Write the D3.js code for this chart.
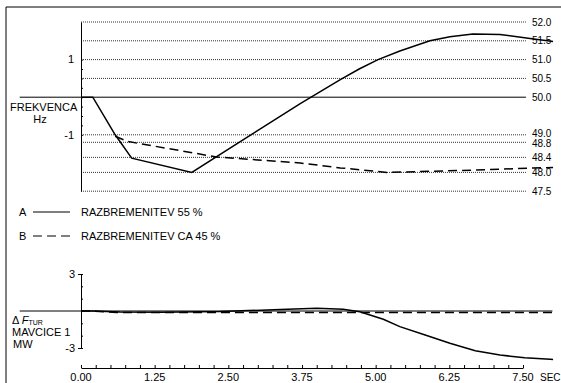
<!DOCTYPE html>
<html>
<head>
<meta charset="utf-8">
<script src="https://cdn.jsdelivr.net/npm/d3@7"></script>
<style>
  body { margin: 0; background: #fff; }
  svg { display: block; font-family: "Liberation Sans", Arial, sans-serif; font-size: 11px; }
  .ref { stroke: #333; stroke-width: 1; stroke-dasharray: 1,1; fill: none; }
  .base { stroke: #000; stroke-width: 1; fill: none; }
  .curve { stroke: #000; stroke-width: 1.5; fill: none; }
  .dash { stroke-dasharray: 9,5; }
  .axis path, .axis line { stroke: #000; stroke-width: 1; }
  .lvl { font-size: 10px; }
</style>
</head>
<body>
<div id="chart"></div>
<script>
const svgWidth = 561;
const svgHeight = 383;

// frequency levels (Hz) shown as reference lines with labels on the right
const freqLevels = [52.0, 51.5, 51.0, 50.5, 50.0, 49.0, 48.8, 48.4, 48.0, 47.5];
const freqLabels = ["52.0", "51.5", "51.0", "50.5", "50.0", "49.0", "48.8", "48.4", "48.0", "47.5"];

// time axis (s)
const timeTicks = [0, 1.25, 2.5, 3.75, 5, 6.25, 7.5];
const timeLabels = ["0.00", "1.25", "2.50", "3.75", "5.00", "6.25", "7.50"];

// frequency response [t, Hz]
const freqA = [[0, 50.0], [0.2, 50.0], [0.58, 49.0], [0.86, 48.38], [1.88, 48.0], [3.72, 49.83],
  [4.40, 50.47], [4.72, 50.75], [5.04, 51.0], [5.41, 51.23], [5.92, 51.5], [6.26, 51.61],
  [6.65, 51.68], [7.11, 51.67], [7.62, 51.56], [8.01, 51.48]];
const freqB = [[0.58, 48.96], [0.80, 48.82], [2.30, 48.41], [3.72, 48.25], [4.40, 48.12],
  [5.19, 48.0], [5.97, 48.03], [6.88, 48.07], [7.67, 48.12], [8.01, 48.13]];

// turbine power change [t, MW]
const powerA = [[0, 0], [0.2, 0], [0.66, -0.08], [1.34, -0.1], [2.36, -0.05], [3.38, 0.12],
  [4.0, 0.22], [4.45, 0.14], [4.73, -0.06], [5.13, -0.67], [5.41, -1.27], [5.84, -1.95],
  [6.26, -2.62], [6.69, -3.22], [7.11, -3.57], [7.53, -3.79], [7.96, -3.92], [8.01, -3.93]];
const powerB = [[0, 0], [0.2, 0], [0.6, -0.12], [8.01, -0.12]];

// extents of the horizontal reference lines (s)
const refExtent = [0, 7.55];
const baseExtent = [-1.04, 7.55];
const zeroExtent = [-1.04, 8.0];

document.addEventListener("DOMContentLoaded", function(event){
  drawChart();
});

function drawChart(){
  const svg = d3.select("#chart")
    .append("svg")
    .attr("width", svgWidth)
    .attr("height", svgHeight);

  const x = d3.scaleLinear().domain([0, 7.5]).range([81, 523]);
  const yf = d3.scaleLinear().domain([47.5, 52]).range([191.2, 22]);
  const yp = d3.scaleLinear().domain([-3, 3]).range([348, 274]);

  // frame
  svg.append("path")
    .attr("d", "M6," + svgHeight + "V7H" + svgWidth)
    .attr("stroke", "#000").attr("fill", "none");

  // reference frequency lines
  freqLevels.forEach(function(f, i){
    const solid = f === 50.0;
    const ext = solid ? baseExtent : refExtent;
    svg.append("line")
      .attr("class", solid ? "base" : "ref")
      .attr("x1", x(ext[0])).attr("x2", x(ext[1]))
      .attr("y1", yf(f)).attr("y2", yf(f));
    svg.append("text")
      .attr("class", "lvl")
      .attr("x", x(ext[1]) + 6)
      .attr("y", yf(f))
      .attr("dy", f === 49.0 ? "0.2em" : (f === 48.8 ? "0.45em" : "0.35em"))
      .text(freqLabels[i]);
  });

  // frequency axis (deviation in Hz)
  svg.append("g")
    .attr("class", "axis")
    .attr("transform", "translate(" + x(0) + ",0)")
    .call(d3.axisRight(yf).tickValues(d3.range(49, 51.01, 0.25)).tickSize(2).tickSizeOuter(0).tickFormat(""));
  svg.append("text").attr("x", x(0) - 7).attr("y", yf(51)).attr("dy", "0.35em")
    .attr("text-anchor", "end").text("1");
  svg.append("text").attr("x", x(0) - 7).attr("y", yf(49)).attr("dy", "0.35em")
    .attr("text-anchor", "end").text("-1");
  svg.append("text").attr("x", 10).attr("y", 111).text("FREKVENCA");
  svg.append("text").attr("x", 40).attr("y", 123).attr("text-anchor", "middle").text("Hz");

  const line = d3.line()
    .x(function(d){ return x(d[0]); });

  svg.append("path").datum(freqA).attr("class", "curve")
    .attr("d", line.y(function(d){ return yf(d[1]); }));
  svg.append("path").datum(freqB).attr("class", "curve dash")
    .attr("d", line.y(function(d){ return yf(d[1]); }));

  // legend
  const legend = [["A", "RAZBREMENITEV 55 %", false], ["B", "RAZBREMENITEV CA 45 %", true]];
  legend.forEach(function(d, i){
    const ly = 212 + i * 24;
    svg.append("text").attr("x", 19).attr("y", ly).attr("dy", "0.35em").text(d[0]);
    svg.append("line").attr("class", d[2] ? "curve dash" : "curve")
      .attr("stroke-dasharray", d[2] ? "8,5" : null)
      .attr("x1", 33).attr("x2", 70).attr("y1", ly).attr("y2", ly)
      .style("stroke-width", 1.2);
    svg.append("text").attr("x", 81).attr("y", ly).attr("dy", "0.35em").text(d[1]);
  });

  // power panel
  svg.append("line").attr("class", "base")
    .attr("x1", x(zeroExtent[0])).attr("x2", x(zeroExtent[1]))
    .attr("y1", yp(0)).attr("y2", yp(0));
  svg.append("g")
    .attr("class", "axis")
    .attr("transform", "translate(" + x(0) + ",0)")
    .call(d3.axisRight(yp).tickValues(d3.range(-3, 3.01, 1)).tickSize(2).tickSizeOuter(0).tickFormat(""));
  svg.append("g")
    .attr("class", "axis")
    .attr("transform", "translate(" + x(0) + ",0)")
    .call(d3.axisLeft(yp).tickValues([-3, 3]).tickSize(3).tickSizeOuter(0).tickFormat(""));
  svg.append("text").attr("x", x(0) - 6).attr("y", yp(3)).attr("dy", "0.35em")
    .attr("text-anchor", "end").text("3");
  svg.append("text").attr("x", x(0) - 6).attr("y", yp(-3)).attr("dy", "0.35em")
    .attr("text-anchor", "end").text("-3");

  const dl = svg.append("text").attr("x", 12).attr("y", 324);
  dl.append("tspan").text("\u0394 ");
  dl.append("tspan").attr("font-style", "italic").text("F");
  dl.append("tspan").attr("font-size", "7px").attr("dy", "1").text("TUR");
  svg.append("text").attr("x", 12).attr("y", 336).text("MAVCICE 1");
  svg.append("text").attr("x", 13).attr("y", 348).text("MW");

  svg.append("path").datum(powerA).attr("class", "curve")
    .attr("d", line.y(function(d){ return yp(d[1]); }));
  svg.append("path").datum(powerB).attr("class", "curve dash")
    .attr("d", line.y(function(d){ return yp(d[1]); }));

  // time axis
  svg.append("g")
    .attr("class", "axis")
    .attr("transform", "translate(0,368)")
    .call(d3.axisTop(x).tickValues(d3.range(0, 7.51, 0.25)).tickSize(3).tickSizeOuter(0).tickFormat(""));
  timeTicks.forEach(function(t, i){
    svg.append("text").attr("x", x(t)).attr("y", 381)
      .attr("text-anchor", "middle").text(timeLabels[i]);
  });
  svg.append("text").attr("x", x(7.5) + 17).attr("y", 381).attr("font-size", "10px").text("SEC");
}
</script>
</body>
</html>
